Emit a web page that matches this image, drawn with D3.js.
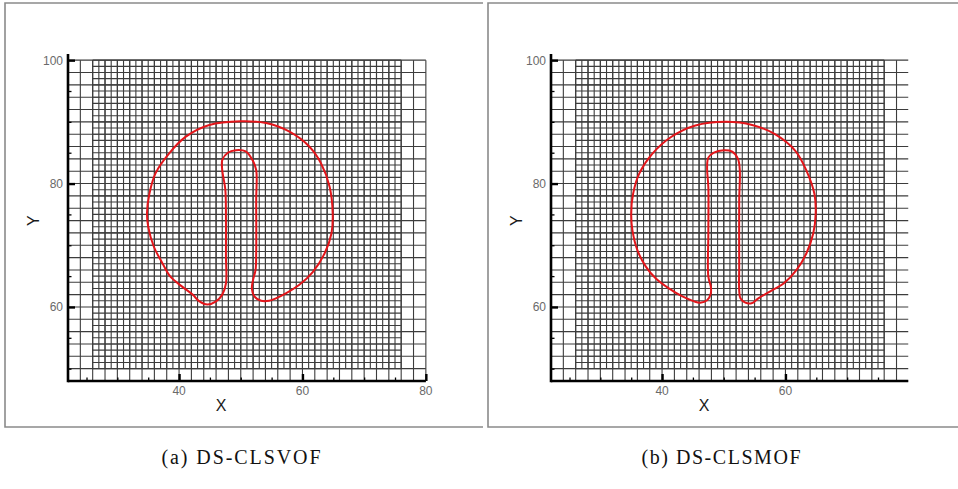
<!DOCTYPE html>
<html>
<head>
<meta charset="utf-8">
<script src="https://cdn.jsdelivr.net/npm/d3@7"></script>
<style>
  html, body { margin: 0; padding: 0; background: #fff; }
  svg { display: block; }
</style>
</head>
<body>
<svg id="fig" width="958" height="489"></svg>
<script>
// Axis ticks
const xMajorTicks = [40, 60, 80];
const yMajorTicks = [60, 80, 100];
const minorStep = 5;

// Adaptive mesh: coarse background level and refined level
const coarseMeshX = [22, 80];
const coarseMeshY = [48, 100];
const coarseStep = 2;
const fineMeshX = [26, 76];
const fineMeshY = [50, 100];
const fineStep = 1;

// Zalesak disk interface after one revolution, DS-CLSVOF
const interfaceVOF = [
  [50.0, 90.1], [54.1, 89.8], [57.9, 88.4], [61.1, 86.0], [63.0, 83.3],
  [64.4, 79.5], [64.9, 75.2], [64.7, 71.9], [63.6, 68.7], [61.7, 65.7],
  [59.5, 63.6], [57.3, 62.2], [55.7, 61.4], [54.6, 61.0], [53.3, 61.0],
  [52.2, 61.7], [51.8, 63.0], [52.0, 64.4], [52.4, 66.0], [52.5, 68.7],
  [52.5, 77.3], [52.5, 82.2], [51.9, 83.8], [50.8, 85.2], [49.2, 85.4],
  [47.9, 85.0], [47.0, 83.8], [47.0, 82.2], [47.5, 79.0], [47.6, 74.6],
  [47.6, 68.2], [47.6, 63.8], [47.0, 62.0], [46.0, 60.9], [44.6, 60.4],
  [43.3, 60.9], [42.2, 62.0], [40.5, 63.3], [38.6, 64.9], [37.3, 67.1],
  [35.9, 69.8], [35.0, 73.0], [34.8, 75.2], [35.2, 78.4], [36.2, 81.7],
  [38.4, 84.9], [41.1, 87.6], [44.9, 89.5]
];

// Zalesak disk interface after one revolution, DS-CLSMOF
const interfaceMOF = [
  [50.3, 90.0], [54.6, 89.5], [58.3, 88.0], [61.6, 85.3], [63.4, 82.1],
  [64.7, 78.3], [64.9, 75.1], [64.5, 71.9], [63.4, 68.7], [61.8, 66.0],
  [59.7, 63.8], [57.8, 62.7], [55.6, 61.4], [54.5, 60.6], [53.5, 60.7],
  [52.7, 61.4], [52.5, 62.7], [52.5, 66.5], [52.5, 77.3], [52.6, 82.1],
  [52.3, 84.0], [51.3, 85.2], [50.0, 85.4], [48.4, 85.0], [47.5, 84.2],
  [47.3, 82.6], [47.5, 79.4], [47.5, 71.9], [47.5, 64.9], [47.9, 63.3],
  [47.9, 62.2], [47.3, 61.1], [46.2, 60.7], [45.2, 60.9], [43.3, 61.7],
  [41.1, 63.0], [39.0, 64.6], [37.4, 66.5], [36.0, 69.2], [35.2, 72.4],
  [35.0, 75.1], [35.3, 78.3], [36.3, 81.6], [38.4, 84.8], [41.4, 87.5],
  [45.4, 89.4]
];

const captions = ["(a) DS-CLSVOF", "(b) DS-CLSMOF"];

const svg = d3.select("#fig");
const pxPerUnit = 6.17;

const panels = [
  { frameX: 5, axisX: 68, xMax: 80, data: interfaceVOF, caption: captions[0], capX: 241 },
  { frameX: 488, axisX: 551, xMax: 79.9, data: interfaceMOF, caption: captions[1], capX: 721 }
];

panels.forEach(p => {
  const g = svg.append("g");

  // panel frame (top, left, bottom edges)
  const fx0 = p.frameX, fx1 = p.frameX === 5 ? 483 : 960, fy0 = 3, fy1 = 427;
  g.append("path")
    .attr("d", `M${fx1},${fy0}H${fx0}V${fy1}H${fx1}`)
    .attr("fill", "none").attr("stroke", "#8a8a8a").attr("stroke-width", 1.6);

  const x = d3.scaleLinear().domain([22, p.xMax])
    .range([p.axisX, p.axisX + (p.xMax - 22) * pxPerUnit]);
  const y = d3.scaleLinear().domain([48, 101]).range([381, 381 - 53 * pxPerUnit]);
  const [xLo, xHi] = x.domain();

  const grid = g.append("g").attr("stroke", "#3c3c3c").attr("stroke-width", 1.1).attr("fill", "none");
  const addLines = (xs, ys, step) => {
    const xEnd = Math.min(xs[1], xHi);
    d3.range(xs[0], xs[1] + 1e-9, step).filter(v => v <= xHi).forEach(v => {
      grid.append("line").attr("x1", x(v)).attr("x2", x(v)).attr("y1", y(ys[0])).attr("y2", y(ys[1]));
    });
    d3.range(ys[0], ys[1] + 1e-9, step).forEach(v => {
      grid.append("line").attr("x1", x(xs[0])).attr("x2", x(xEnd)).attr("y1", y(v)).attr("y2", y(v));
    });
  };
  addLines(coarseMeshX, coarseMeshY, coarseStep);
  addLines(fineMeshX, fineMeshY, fineStep);

  // interface contour
  const line = d3.line().x(d => x(d[0])).y(d => y(d[1])).curve(d3.curveCatmullRomClosed.alpha(0.5));
  g.append("path").datum(p.data).attr("d", line)
    .attr("fill", "none").attr("stroke", "#e3151a").attr("stroke-width", 2)
    .attr("stroke-linejoin", "round");

  // axes (ticks point inward)
  const xAxis = d3.axisTop(x)
    .tickValues(xMajorTicks.filter(v => v <= xHi)).tickSize(7).tickFormat("");
  const xMinor = d3.axisTop(x)
    .tickValues(d3.range(25, xHi + 1e-9, minorStep).filter(v => !xMajorTicks.includes(v)))
    .tickSize(3.5).tickFormat("");
  const yAxis = d3.axisRight(y).tickValues(yMajorTicks).tickSize(7).tickFormat("");
  const yMinor = d3.axisRight(y)
    .tickValues(d3.range(50, 101, minorStep).filter(v => !yMajorTicks.includes(v)))
    .tickSize(3.5).tickFormat("");

  const ax = g.append("g").attr("transform", `translate(0,${y(48)})`).call(xAxis);
  ax.selectAll("line").attr("stroke", "#000").attr("stroke-width", 2.4);
  const axm = g.append("g").attr("transform", `translate(0,${y(48)})`).call(xMinor);
  axm.selectAll("line").attr("stroke", "#000").attr("stroke-width", 1.3);
  const ay = g.append("g").attr("transform", `translate(${x(22)},0)`).call(yAxis);
  ay.selectAll("line").attr("stroke", "#000").attr("stroke-width", 2.4);
  const aym = g.append("g").attr("transform", `translate(${x(22)},0)`).call(yMinor);
  aym.selectAll("line").attr("stroke", "#000").attr("stroke-width", 1.3);
  g.selectAll(".domain").remove();

  // thick axis lines
  g.append("line").attr("x1", x(22)).attr("x2", x(xHi)).attr("y1", y(48)).attr("y2", y(48))
    .attr("stroke", "#000").attr("stroke-width", 2.6);
  g.append("line").attr("x1", x(22)).attr("x2", x(22)).attr("y1", y(48) + 1.3).attr("y2", y(101))
    .attr("stroke", "#000").attr("stroke-width", 2.6);

  // tick labels
  const lab = { "font-family": "Liberation Sans, Arial, sans-serif", "font-size": "12px", fill: "#6a6a6a" };
  xMajorTicks.filter(v => v <= xHi).forEach(v => {
    const t = g.append("text").attr("x", x(v)).attr("y", y(48) + 14).attr("text-anchor", "middle").text(v);
    Object.entries(lab).forEach(([k, val]) => t.attr(k, val));
  });
  yMajorTicks.forEach(v => {
    const t = g.append("text").attr("x", x(22) - 5).attr("y", y(v) + 4.5).attr("text-anchor", "end").text(v);
    Object.entries(lab).forEach(([k, val]) => t.attr(k, val));
  });

  // axis titles
  const midX = x(40) + (x(60) - x(40)) * 0.34;
  g.append("text").attr("x", midX).attr("y", y(48) + 30).attr("text-anchor", "middle")
    .attr("font-family", "Liberation Sans, Arial, sans-serif").attr("font-size", "16px").attr("fill", "#1a1a1a")
    .text("X");
  g.append("text").attr("transform", `translate(${x(22) - 29},${y(74)}) rotate(-90)`)
    .attr("text-anchor", "middle")
    .attr("font-family", "Liberation Sans, Arial, sans-serif").attr("font-size", "16px").attr("fill", "#1a1a1a")
    .text("Y");

  // caption
  svg.append("text").attr("x", p.capX).attr("y", 464).attr("text-anchor", "middle")
    .attr("font-family", "Liberation Serif, 'DejaVu Serif', serif").attr("font-size", "20px").attr("fill", "#111")
    .attr("textLength", 159).attr("lengthAdjust", "spacing")
    .text(p.caption);
});
</script>
</body>
</html>
